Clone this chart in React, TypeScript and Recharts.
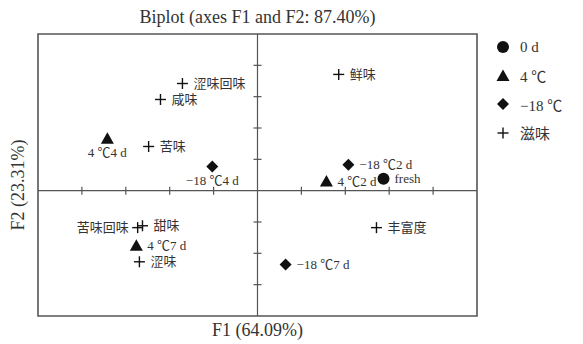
import React from 'react';
import {
  ScatterChart,
  Scatter,
  XAxis,
  YAxis,
  ReferenceLine,
  ReferenceArea,
  ReferenceDot,
  Legend,
} from 'recharts';

// ---- data ----
const legendGroups = ['0 d', '4 ℃', '−18 ℃', '滋味'];

const freshNames = ['fresh'];
const freshF1 = [2.87];
const freshF2 = [0.38];

const chilledNames = ['4 ℃2 d', '4 ℃4 d', '4 ℃7 d'];
const chilledF1 = [1.57, -3.42, -2.76];
const chilledF2 = [0.29, 1.66, -1.76];

const frozenNames = ['−18 ℃2 d', '−18 ℃4 d', '−18 ℃7 d'];
const frozenF1 = [2.07, -1.03, 0.64];
const frozenF2 = [0.83, 0.77, -2.36];

const tasteNames = ['涩味回味', '咸味', '苦味', '鲜味', '苦味回味', '甜味', '涩味', '丰富度'];
const tasteF1 = [-1.71, -2.21, -2.48, 1.85, -2.73, -2.62, -2.69, 2.71];
const tasteF2 = [3.42, 2.91, 1.41, 3.71, -1.18, -1.12, -2.27, -1.18];

// label placement relative to marker
const freshLabelSide = ['right'];
const chilledLabelSide = ['right', 'below', 'right'];
const frozenLabelSide = ['right', 'below', 'right'];
const tasteLabelSide = ['right', 'right', 'right', 'right', 'left', 'right', 'right', 'right'];

const f1Ticks = [-4, -3, -2, -1, 1, 2, 3, 4];
const f2Ticks = [-3, -2, -1, 1, 2, 3, 4];
const f1Domain = [-5, 5];
const f2Domain = [-4, 5];

const titleText = 'Biplot (axes F1 and F2: 87.40%)';
const xTitle = 'F1 (64.09%)';
const yTitle = 'F2 (23.31%)';

const build = (names: string[], xs: number[], ys: number[], sides: string[]) =>
  names.map((n, i) => ({ name: n, x: xs[i], y: ys[i], side: sides[i] }));

const freshData = build(freshNames, freshF1, freshF2, freshLabelSide);
const chilledData = build(chilledNames, chilledF1, chilledF2, chilledLabelSide);
const frozenData = build(frozenNames, frozenF1, frozenF2, frozenLabelSide);
const tasteData = build(tasteNames, tasteF1, tasteF2, tasteLabelSide);

// ---- styles ----
const INK = '#111';
const TXT = '#333';
const FRAME = '#555';
const FONT = '"Liberation Serif", "Times New Roman", "Noto Sans CJK SC", serif';

const Marker = ({ kind, cx, cy }: { kind: string; cx: number; cy: number }) => {
  if (kind === 'circle') return <circle cx={cx} cy={cy} r={6} fill={INK} />;
  if (kind === 'triangle')
    return <polygon points={`${cx},${cy - 6.5} ${cx + 6.5},${cy + 5} ${cx - 6.5},${cy + 5}`} fill={INK} />;
  if (kind === 'diamond')
    return <polygon points={`${cx},${cy - 6} ${cx + 6},${cy} ${cx},${cy + 6} ${cx - 6},${cy}`} fill={INK} />;
  return (
    <g stroke={INK} strokeWidth={1.4}>
      <line x1={cx - 5.5} y1={cy} x2={cx + 5.5} y2={cy} />
      <line x1={cx} y1={cy - 5.5} x2={cx} y2={cy + 5.5} />
    </g>
  );
};

const makeShape = (kind: string) => (props: any) => {
  const { cx, cy, payload } = props;
  if (cx == null || cy == null) return <g />;
  const side = payload.side;
  let tx = cx + 11;
  let ty = cy + 4.5;
  let anchor: 'start' | 'middle' | 'end' = 'start';
  if (side === 'below') {
    tx = cx;
    ty = cy + 18;
    anchor = 'middle';
  } else if (side === 'left') {
    tx = cx - 9;
    anchor = 'end';
  }
  return (
    <g>
      <Marker kind={kind} cx={cx} cy={cy} />
      <text x={tx} y={ty} textAnchor={anchor} fontSize={13} fill={TXT} fontFamily={FONT}>
        {payload.name}
      </text>
    </g>
  );
};

const legendKinds = ['circle', 'triangle', 'diamond', 'cross'];

const LegendContent = () => (
  <div style={{ fontFamily: FONT, fontSize: 15, color: TXT }}>
    {legendGroups.map((g, i) => (
      <div key={g} style={{ display: 'flex', alignItems: 'center', height: 28.5 }}>
        <svg width={20} height={16} style={{ marginRight: 6 }}>
          <Marker kind={legendKinds[i]} cx={9} cy={8} />
        </svg>
        <span>{g}</span>
      </div>
    ))}
  </div>
);

const HTick = (props: any) => {
  const { cx, cy } = props;
  return <line x1={cx} y1={cy - 4} x2={cx} y2={cy + 4} stroke={FRAME} strokeWidth={1.2} />;
};
const VTick = (props: any) => {
  const { cx, cy } = props;
  return <line x1={cx - 4} y1={cy} x2={cx + 4} y2={cy} stroke={FRAME} strokeWidth={1.2} />;
};

export default function App() {
  const W = 575;
  const H = 336;
  const margin = { top: 26, right: 106, bottom: 28, left: 30 };
  const plotCx = margin.left + (W - margin.left - margin.right) / 2;
  return (
    <div style={{ position: 'relative', width: W, height: H, fontFamily: FONT }}>
      <div
        style={{
          position: 'absolute',
          left: plotCx - 150,
          width: 300,
          top: -1,
          textAlign: 'center',
          fontSize: 18,
          color: TXT,
          whiteSpace: 'nowrap',
        }}
      >
        {titleText}
      </div>
      <div
        style={{
          position: 'absolute',
          left: plotCx - 100,
          width: 200,
          top: 312,
          textAlign: 'center',
          fontSize: 18,
          color: TXT,
        }}
      >
        {xTitle}
      </div>
      <div
        style={{
          position: 'absolute',
          left: 10 - 100,
          top: 177 - 10,
          width: 200,
          height: 20,
          lineHeight: '20px',
          textAlign: 'center',
          fontSize: 18,
          color: TXT,
          transform: 'rotate(-90deg)',
          whiteSpace: 'nowrap',
        }}
      >
        {yTitle}
      </div>
      <ScatterChart width={W} height={H} margin={margin} style={{ position: 'absolute', left: 0, top: 0 }}>
        <XAxis type="number" dataKey="x" domain={f1Domain} hide allowDataOverflow />
        <YAxis type="number" dataKey="y" domain={f2Domain} hide allowDataOverflow />
        <ReferenceArea
          x1={f1Domain[0]}
          x2={f1Domain[1]}
          y1={f2Domain[0]}
          y2={f2Domain[1]}
          fill="none"
          fillOpacity={0}
          stroke={FRAME}
          strokeWidth={1.6}
        />
        <ReferenceLine x={0} stroke={FRAME} strokeWidth={1.2} />
        <ReferenceLine y={0} stroke={FRAME} strokeWidth={1.2} />
        {f1Ticks.map((t) => (
          <ReferenceDot key={'xt' + t} x={t} y={0} r={0} shape={HTick} />
        ))}
        {f2Ticks.map((t) => (
          <ReferenceDot key={'yt' + t} x={0} y={t} r={0} shape={VTick} />
        ))}
        <Legend
          layout="vertical"
          align="center"
          verticalAlign="middle"
          content={LegendContent}
          wrapperStyle={{ position: 'absolute', left: 486, top: 25, width: 90 }}
        />
        <Scatter name={legendGroups[0]} data={freshData} shape={makeShape('circle')} isAnimationActive={false} />
        <Scatter name={legendGroups[1]} data={chilledData} shape={makeShape('triangle')} isAnimationActive={false} />
        <Scatter name={legendGroups[2]} data={frozenData} shape={makeShape('diamond')} isAnimationActive={false} />
        <Scatter name={legendGroups[3]} data={tasteData} shape={makeShape('cross')} isAnimationActive={false} />
      </ScatterChart>
    </div>
  );
}
